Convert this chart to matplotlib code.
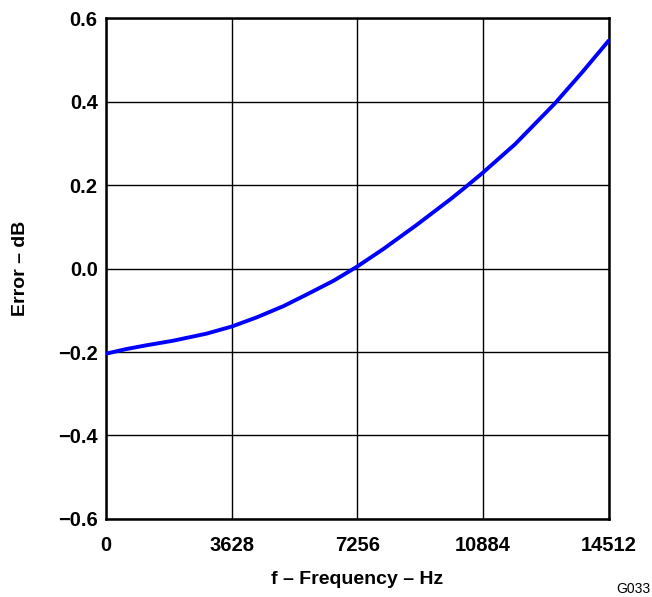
import matplotlib
matplotlib.use('Agg')
import matplotlib.pyplot as plt

# values
freq = [0, 580, 1160, 1935, 2900, 3628, 4350, 5125, 5800, 6575, 7256,
        8010, 8976, 9942, 10377, 10884, 11810, 12952, 13744, 14512]
error = [-0.204, -0.193, -0.184, -0.173, -0.156, -0.139, -0.117, -0.090, -0.062, -0.029, 0.005,
         0.047, 0.105, 0.166, 0.195, 0.230, 0.298, 0.395, 0.470, 0.546]

xticks = [0, 3628, 7256, 10884, 14512]
yticks = [-0.6, -0.4, -0.2, 0.0, 0.2, 0.4, 0.6]
ytick_labels = ['\u22120.6', '\u22120.4', '\u22120.2', '0.0', '0.2', '0.4', '0.6']

plt.rcParams['font.family'] = ['Liberation Sans', 'DejaVu Sans']

fig = plt.figure(figsize=(6.52, 5.97), dpi=100)
ax = fig.add_axes([0.1626, 0.1307, 0.771, 0.839])

ax.plot(freq, error, color='#0000ff', lw=2.8, zorder=3,
        solid_joinstyle='round', solid_capstyle='round')

ax.set_xlim(0, 14512)
ax.set_ylim(-0.6, 0.6)
ax.set_xticks(xticks)
ax.set_xticklabels([str(t) for t in xticks], fontweight='bold', fontsize=14.5)
ax.set_yticks(yticks)
ax.set_yticklabels(ytick_labels, fontweight='bold', fontsize=14.5)
ax.tick_params(axis='x', length=0, pad=12.5)
ax.tick_params(axis='y', length=0, pad=6)
ax.grid(True, color='black', lw=1)

for s in ax.spines.values():
    s.set_linewidth(1.8)

ax.set_xlabel('f \u2013 Frequency \u2013 Hz', fontweight='bold', fontsize=14, labelpad=11)
ax.set_ylabel('Error \u2013 dB', fontweight='bold', fontsize=14, labelpad=21)

fig.text(0.998, 0.002, 'G033', ha='right', va='bottom', fontsize=10)

fig.savefig('out.png', dpi=100)
